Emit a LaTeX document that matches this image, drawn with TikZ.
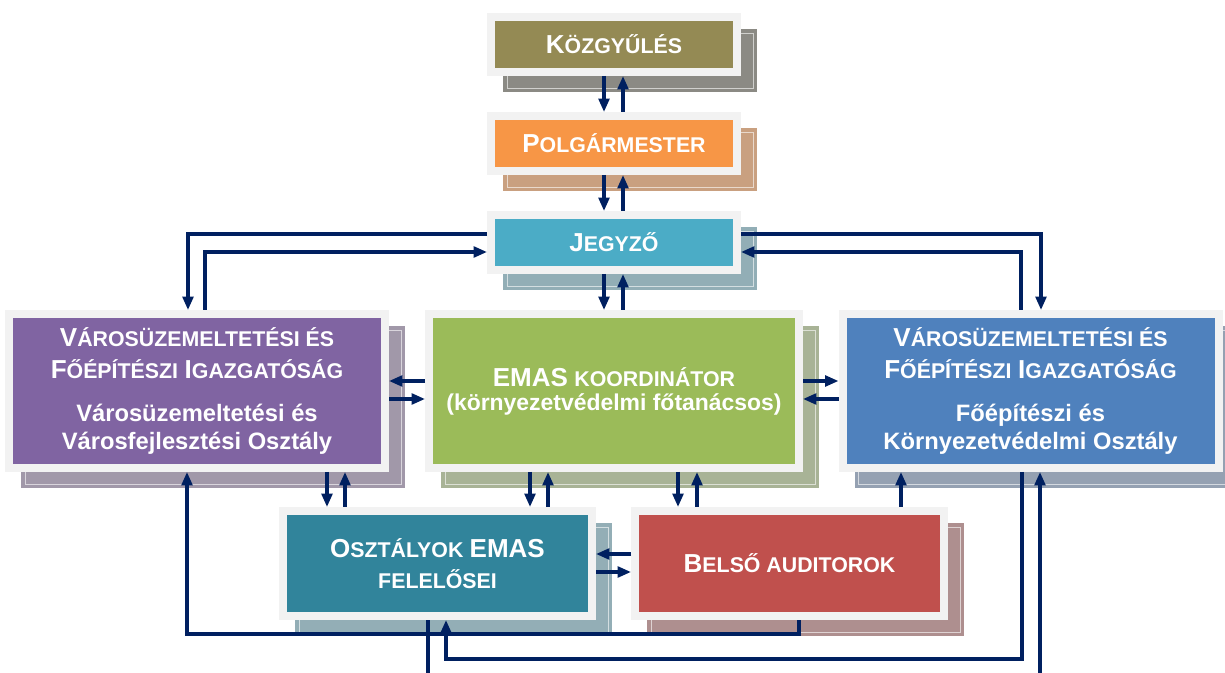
\documentclass[tikz,border=0pt]{standalone}
\usepackage{fontspec}
\setmainfont{Liberation Sans}
\usetikzlibrary{arrows.meta,backgrounds}

\definecolor{frameGrey}{HTML}{F2F2F2}
\definecolor{arrowNavy}{HTML}{002060}
\definecolor{kozgyFill}{HTML}{948A54}
\definecolor{kozgyShade}{HTML}{8B8A84}
\definecolor{polgFill}{HTML}{F79646}
\definecolor{polgShade}{HTML}{C9A080}
\definecolor{jegyzoFill}{HTML}{4BACC6}
\definecolor{jegyzoShade}{HTML}{92AEB6}
\definecolor{varosFill}{HTML}{8064A2}
\definecolor{varosShade}{HTML}{A198A9}
\definecolor{emasFill}{HTML}{9BBB59}
\definecolor{emasShade}{HTML}{A8B396}
\definecolor{foepFill}{HTML}{4F81BD}
\definecolor{foepShade}{HTML}{95A1B2}
\definecolor{osztalyFill}{HTML}{31849B}
\definecolor{osztalyShade}{HTML}{93AEB6}
\definecolor{belsoFill}{HTML}{C0504D}
\definecolor{belsoShade}{HTML}{AE8F8F}

% first letter / small capitals
\newcommand{\capA}[1]{{\fontsize{19.5}{19.5}\selectfont #1}}
\newcommand{\capB}[1]{{\fontsize{16}{16}\selectfont #1}}

\tikzset{every picture/.style={line width=0.75pt}}
\tikzset{
  box/.style={draw=frameGrey, line width=6pt, text=white, align=center, inner sep=0pt},
  topbox/.style={box, minimum width=184.5pt, minimum height=41.25pt},
  bigbox/.style={box, minimum width=282pt, minimum height=115.5pt},
  midbox/.style={box, minimum width=231.75pt, minimum height=78.75pt},
  arr/.style={draw=arrowNavy, line width=2.4pt, -{Triangle[length=10pt,width=8pt]}},
  wire/.style={draw=arrowNavy, line width=2.4pt},
}

\begin{document}
\begin{tikzpicture}[x=0.75pt,y=0.75pt,yscale=-1,xscale=1]
\useasboundingbox (0,0) rectangle (1225,673);

% Box: Közgyűlés
\node[topbox, fill=kozgyFill, font=\bfseries] (kozgy) at (614,44.5) {\capA{K}\capB{ÖZGYŰLÉS}};
% Box: Polgármester
\node[topbox, fill=polgFill, font=\bfseries] (polg) at (614,143.5) {\capA{P}\capB{OLGÁRMESTER}};
% Box: Jegyző
\node[topbox, fill=jegyzoFill, font=\bfseries] (jegyzo) at (614,242.5) {\capA{J}\capB{EGYZŐ}};
% Box: left directorate
\node[bigbox, fill=varosFill, font=\bfseries\fontsize{17.8}{24}\selectfont] (varos) at (197,391)
  {\capA{V}\capB{ÁROSÜZEMELTETÉSI ÉS}\\\capA{F}\capB{ŐÉPÍTÉSZI} \capA{I}\capB{GAZGATÓSÁG}\\[8pt]Városüzemeltetési és\\[-3pt]Városfejlesztési Osztály};
% Box: EMAS koordinátor
\node[box, minimum width=277.5pt, minimum height=115.5pt, fill=emasFill, font=\bfseries\fontsize{17.2}{18}\selectfont] (emas) at (614,391)
  {\capA{EMAS} \capB{KOORDINÁTOR}\\(környezetvédelmi főtanácsos)};
% Box: right directorate
\node[bigbox, fill=foepFill, font=\bfseries\fontsize{17.8}{24}\selectfont] (foep) at (1030.5,391)
  {\capA{V}\capB{ÁROSÜZEMELTETÉSI ÉS}\\\capA{F}\capB{ŐÉPÍTÉSZI} \capA{I}\capB{GAZGATÓSÁG}\\[8pt]Főépítészi és\\[-3pt]Környezetvédelmi Osztály};
% Box: Osztályok EMAS felelősei
\node[midbox, fill=osztalyFill, font=\bfseries\fontsize{17}{23}\selectfont] (osztaly) at (437.5,563.5)
  {\capA{O}\capB{SZTÁLYOK} \capA{EMAS}\\\capB{FELELŐSEI}};
% Box: Belső auditorok
\node[midbox, fill=belsoFill, font=\bfseries] (belso) at (789.5,563.5) {\capA{B}\capB{ELSŐ AUDITOROK}};

% free ends at the lower edge
\coordinate (outL) at (428,673);
\coordinate (outR) at (1040,673);

% shadows
\begin{scope}[on background layer]
\foreach \n/\c in {kozgy/kozgyShade, polg/polgShade, jegyzo/jegyzoShade, varos/varosShade, emas/emasShade, foep/foepShade, osztaly/osztalyShade, belso/belsoShade}{
  \fill[\c] ([shift={(16,16)}]\n.north west) rectangle ([shift={(16,16)}]\n.south east);
  \draw[white, opacity=0.6, line width=0.6pt] ([shift={(20,20)}]\n.north west) rectangle ([shift={(12,12)}]\n.south east);
}
\end{scope}

% vertical chain
\draw[arr] ([shift={(-10,0)}]kozgy.south) -- ([shift={(-10,0)}]polg.north);
\draw[arr] ([shift={(9,0)}]polg.north) -- ([shift={(9,0)}]kozgy.south);
\draw[arr] ([shift={(-10,0)}]polg.south) -- ([shift={(-10,0)}]jegyzo.north);
\draw[arr] ([shift={(9,0)}]jegyzo.north) -- ([shift={(9,0)}]polg.south);
\draw[arr] ([shift={(-10,0)}]jegyzo.south) -- ([shift={(-10,0)}]emas.north);
\draw[arr] ([shift={(9,0)}]emas.north) -- ([shift={(9,0)}]jegyzo.south);

% Jegyző - directorates
\draw[arr] ([shift={(0,-8.5)}]jegyzo.west) -| ([shift={(-9,0)}]varos.north);
\draw[arr] ([shift={(8,0)}]varos.north) |- ([shift={(0,9.5)}]jegyzo.west);
\draw[arr] ([shift={(0,-8.5)}]jegyzo.east) -| ([shift={(10.5,0)}]foep.north);
\draw[arr] ([shift={(-9.5,0)}]foep.north) |- ([shift={(0,9.5)}]jegyzo.east);

% EMAS - directorates
\draw[arr] ([shift={(0,-10)}]emas.west) -- ([shift={(0,-10)}]varos.east);
\draw[arr] ([shift={(0,8)}]varos.east) -- ([shift={(0,8)}]emas.west);
\draw[arr] ([shift={(0,-10)}]emas.east) -- ([shift={(0,-10)}]foep.west);
\draw[arr] ([shift={(0,8)}]foep.west) -- ([shift={(0,8)}]emas.east);

% lower row
\draw[arr] ([shift={(130,0)}]varos.south) -- ([shift={(-110.5,0)}]osztaly.north);
\draw[arr] ([shift={(-92.5,0)}]osztaly.north) -- ([shift={(148,0)}]varos.south);
\draw[arr] ([shift={(-84,0)}]emas.south) -- ([shift={(92.5,0)}]osztaly.north);
\draw[arr] ([shift={(110.5,0)}]osztaly.north) -- ([shift={(-66,0)}]emas.south);
\draw[arr] ([shift={(64,0)}]emas.south) -- ([shift={(-111.5,0)}]belso.north);
\draw[arr] ([shift={(-92.5,0)}]belso.north) -- ([shift={(83,0)}]emas.south);
\draw[arr] ([shift={(111.5,0)}]belso.north) -- ([shift={(-129.5,0)}]foep.south);
\draw[arr] ([shift={(0,-9.5)}]belso.west) -- ([shift={(0,-9.5)}]osztaly.east);
\draw[arr] ([shift={(0,8.5)}]osztaly.east) -- ([shift={(0,8.5)}]belso.west);

% long returns
\draw[arr] ([shift={(9.5,0)}]belso.south) -- ++(0,14) -| ([shift={(-10,0)}]varos.south);
\draw[arr] ([shift={(-8.5,0)}]foep.south) -- ++(0,187) -| ([shift={(8.5,0)}]osztaly.south);
\draw[wire] ([shift={(-9.5,0)}]osztaly.south) -- (outL);
\draw[arr] (outR) -- ([shift={(9.5,0)}]foep.south);

\end{tikzpicture}
\end{document}
